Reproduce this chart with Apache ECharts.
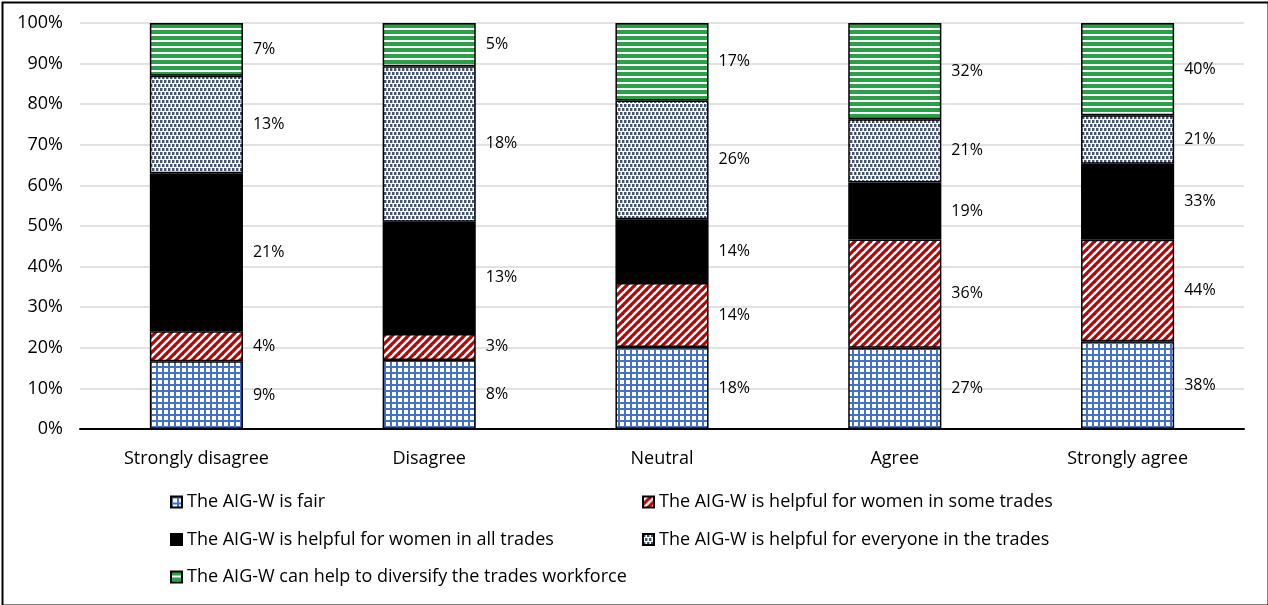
<!DOCTYPE html>
<html><head><meta charset="utf-8">
<script src="https://cdn.jsdelivr.net/npm/echarts@6/dist/echarts.min.js"></script>
<style>html,body{margin:0;padding:0;background:#fff}#c{width:1268px;height:605px}</style>
</head><body><div id="c"></div><script>
const categories = ['Strongly disagree', 'Disagree', 'Neutral', 'Agree', 'Strongly agree'];
const seriesNames = [
  'The AIG-W is fair',
  'The AIG-W is helpful for women in some trades',
  'The AIG-W is helpful for women in all trades',
  'The AIG-W is helpful for everyone in the trades',
  'The AIG-W can help to diversify the trades workforce'
];
const fair = [9, 8, 18, 27, 38];
const someTrades = [4, 3, 14, 36, 44];
const allTrades = [21, 13, 14, 19, 33];
const everyone = [13, 18, 26, 21, 21];
const diversify = [7, 5, 17, 32, 40];
const yTicks = [0, 10, 20, 30, 40, 50, 60, 70, 80, 90, 100];

const counts = [fair, someTrades, allTrades, everyone, diversify];
const totals = categories.map((c, i) => counts.reduce((s, a) => s + a[i], 0));

function pat(w, h, draw) {
  const c = document.createElement('canvas');
  c.width = w; c.height = h;
  const g = c.getContext('2d');
  g.fillStyle = '#fff'; g.fillRect(0, 0, w, h);
  draw(g);
  return { image: c, repeat: 'repeat' };
}
const fills = [
  pat(6, 6, g => { g.fillStyle = '#4472C4'; g.fillRect(0, 0, 6, 2); g.fillRect(0, 0, 2, 6); }),
  pat(8, 8, g => {
    g.strokeStyle = '#C00000'; g.lineWidth = 3.2;
    [[-2, 10, 10, -2], [-2, 2, 2, -2], [6, 10, 10, 6]].forEach(l => { g.beginPath(); g.moveTo(l[0], l[1]); g.lineTo(l[2], l[3]); g.stroke(); });
  }),
  '#000000',
  pat(4, 8, g => { g.fillStyle = '#44546A'; g.fillRect(0, 0, 2, 3); g.fillRect(2, 4, 2, 3);
    g.fillStyle = 'rgba(68,84,106,0.45)'; g.fillRect(2, 0, 1, 3); g.fillRect(0, 4, 1, 3); }),
  pat(6, 6, g => { g.fillStyle = '#2AA048'; g.fillRect(0, 0, 6, 4); })
];

const FONT = 'Open Sans';
const series = counts.map((arr, si) => ({
  name: seriesNames[si],
  type: 'bar',
  stack: 'total',
  barWidth: '40%',
  data: arr.map((v, i) => v / totals[i] * 100),
  itemStyle: { color: fills[si], borderColor: '#000', borderWidth: 1.5 },
  label: {
    show: true, position: 'right', distance: 10,
    formatter: p => counts[si][p.dataIndex] + '%',
    color: '#000', fontSize: 16, fontFamily: FONT
  },
  emphasis: { disabled: true }
}));

const chart = echarts.init(document.getElementById('c'));
chart.setOption({
  animation: false,
  backgroundColor: '#fff',
  grid: { left: 80, right: 24, top: 23, bottom: 176 },
  xAxis: {
    type: 'category', data: categories,
    axisLine: { lineStyle: { color: '#000', width: 2 } },
    axisTick: { show: false },
    axisLabel: { color: '#000', fontSize: 18, fontFamily: FONT, margin: 21 }
  },
  yAxis: {
    type: 'value', min: 0, max: 100, interval: 10,
    axisLine: { show: false }, axisTick: { show: false },
    axisLabel: { formatter: v => yTicks.includes(v) ? v + '%' : '', color: '#000', fontSize: 18, fontFamily: FONT, margin: 17 },
    splitLine: { lineStyle: { color: '#D9D9D9', width: 1.5 } }
  },
  legend: [
    { data: [seriesNames[0], seriesNames[2], seriesNames[4]], orient: 'vertical', left: 165, top: 488, itemGap: 19.5, itemWidth: 11, itemHeight: 11, icon: 'rect', textStyle: { color: '#000', fontSize: 18, fontFamily: FONT } },
    { data: [seriesNames[1], seriesNames[3]], orient: 'vertical', left: 637, top: 488, itemGap: 19.5, itemWidth: 11, itemHeight: 11, icon: 'rect', textStyle: { color: '#000', fontSize: 18, fontFamily: FONT } }
  ],
  graphic: [{ type: 'rect', left: 0, top: 0, shape: { x: 1, y: 1, width: 1266, height: 603 }, style: { fill: 'none', stroke: '#000', lineWidth: 2 }, silent: true }],
  series: series
});
</script></body></html>
